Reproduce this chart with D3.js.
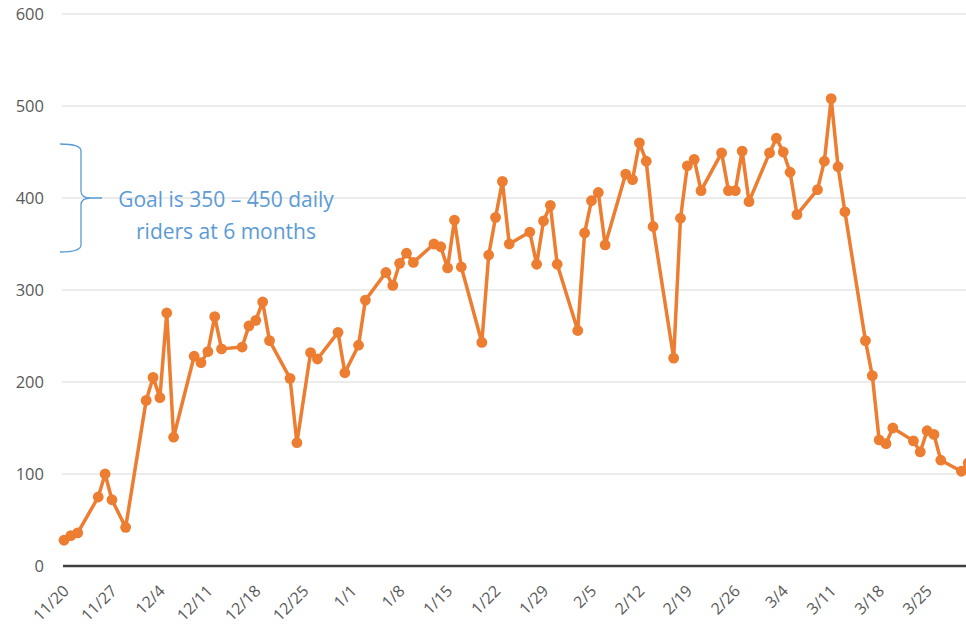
<!DOCTYPE html>
<html><head><meta charset="utf-8">
<script src="https://cdn.jsdelivr.net/npm/d3@7"></script>
<style>body{margin:0;background:#fff}svg{display:block}</style>
</head><body>
<svg id="c" width="966" height="632"></svg>
<script>
const dates = ["11/20","11/21","11/22","11/25","11/26","11/27","11/29",
"12/2","12/3","12/4","12/5","12/6","12/9","12/10","12/11","12/12","12/13",
"12/16","12/17","12/18","12/19","12/20","12/23","12/24","12/26","12/27",
"12/30","12/31","1/2","1/3","1/6","1/7","1/8","1/9","1/10",
"1/13","1/14","1/15","1/16","1/17","1/20","1/21","1/22","1/23","1/24",
"1/27","1/28","1/29","1/30","1/31","2/3","2/4","2/5","2/6","2/7",
"2/10","2/11","2/12","2/13","2/14","2/17","2/18","2/19","2/20","2/21",
"2/24","2/25","2/26","2/27","2/28","3/2","3/3","3/4","3/5","3/6",
"3/9","3/10","3/11","3/12","3/13","3/16","3/17","3/18","3/19","3/20",
"3/23","3/24","3/25","3/26","3/27","3/30","3/31"];
const riders = [28,33,36,75,100,72,42,
180,205,183,275,140,228,221,233,271,236,
238,261,267,287,245,204,134,232,225,
254,210,240,289,319,305,329,340,330,
350,347,324,376,325,243,338,379,418,350,
363,328,375,392,328,256,362,397,406,349,
426,420,460,440,369,226,378,435,442,408,
449,408,408,451,396,449,465,450,428,382,
409,440,508,434,385,245,207,137,133,150,
136,124,147,143,115,103,112];
const xTickLabels = ["11/20","11/27","12/4","12/11","12/18","12/25","1/1","1/8","1/15","1/22","1/29","2/5","2/12","2/19","2/26","3/4","3/11","3/18","3/25"];
const yTicks = [0,100,200,300,400,500,600];
const goalRange = [350,450];
const goalText = ["Goal is 350 \u2013 450 daily","riders at 6 months"];

const parse = s => { const [m,d] = s.split("/").map(Number); return new Date(m >= 11 ? 2019 : 2020, m-1, d); };

const svg = d3.select("#c");
const x = d3.scaleTime().domain([parse("11/20"), parse("3/25")]).range([64, 927.1]);
const y = d3.scaleLinear().domain([0,600]).range([566, 14]);

// gridlines
svg.append("g").selectAll("line").data(yTicks.filter(v=>v>0)).join("line")
  .attr("x1",62).attr("x2",966).attr("y1",d=>y(d)).attr("y2",d=>y(d))
  .attr("stroke","#d9d9d9").attr("stroke-width",1.2);

// y labels
svg.append("g").selectAll("text").data(yTicks).join("text")
  .attr("x",44).attr("y",d=>y(d)).attr("dy","0.35em").attr("text-anchor","end")
  .attr("font-family","Open Sans, sans-serif").attr("font-size",16.5).attr("fill","#595959")
  .text(d=>d);

// x axis line
svg.append("line").attr("x1",63).attr("x2",966).attr("y1",y(0)).attr("y2",y(0))
  .attr("stroke","#404040").attr("stroke-width",2.5);

// x labels
svg.append("g").selectAll("text").data(xTickLabels).join("text")
  .attr("transform",d=>`translate(${x(parse(d))+2},${y(0)+22}) rotate(-45)`)
  .attr("text-anchor","end").attr("dy","0.35em")
  .attr("font-family","Open Sans, sans-serif").attr("font-size",16).attr("fill","#595959")
  .text(d=>d);

// line
const pts = dates.map((d,i)=>({date:parse(d), v:riders[i]}));
svg.append("path").datum(pts)
  .attr("d", d3.line().x(d=>x(d.date)).y(d=>y(d.v)))
  .attr("fill","none").attr("stroke","#ED7D31").attr("stroke-width",3.5).attr("stroke-linejoin","round");
svg.append("g").selectAll("circle").data(pts).join("circle")
  .attr("cx",d=>x(d.date)).attr("cy",d=>y(d.v)).attr("r",5.4).attr("fill","#ED7D31");

// goal brace
const bTop = y(goalRange[1]) - 8, bBot = y(goalRange[0]) + 8, bMid = (bTop+bBot)/2;
const bx0 = 60, bx1 = 81;
svg.append("path")
  .attr("d", `M${bx0},${bTop} Q${bx1},${bTop} ${bx1},${bTop+7} L${bx1},${bMid-7} Q${bx1},${bMid} ${bx1+10},${bMid} L${bx1+21},${bMid} M${bx1+10},${bMid} Q${bx1},${bMid} ${bx1},${bMid+7} L${bx1},${bBot-7} Q${bx1},${bBot} ${bx0},${bBot}`)
  .attr("fill","none").attr("stroke","#5B9BD5").attr("stroke-width",1.3);
svg.append("g").selectAll("text").data(goalText).join("text")
  .attr("x",226).attr("y",(d,i)=>207+i*32).attr("text-anchor","middle")
  .attr("font-family","Open Sans, sans-serif").attr("font-size",21).attr("fill","#5B9BD5")
  .text(d=>d);
</script>
</body></html>
